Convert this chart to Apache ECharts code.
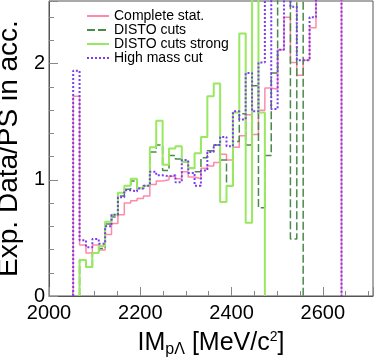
<!DOCTYPE html>
<html><head><meta charset="utf-8">
<script src="https://cdn.jsdelivr.net/npm/echarts@6/dist/echarts.min.js"></script>
<style>html,body{margin:0;padding:0;background:#fff}#c{width:374px;height:360px}</style>
</head><body><div id="c"></div>
<script>
// Bin edges of the invariant-mass histogram (MeV/c^2)
const binEdges = [2053, 2067, 2081, 2095, 2109, 2123, 2137, 2151, 2165, 2179, 2193,
  2207, 2221, 2235, 2249, 2263, 2277, 2291, 2305, 2319, 2333, 2347, 2361, 2375,
  2389, 2403, 2417, 2431, 2445, 2459, 2473, 2487, 2501, 2515, 2529, 2543, 2557,
  2571, 2585, 2599, 2613, 2627, 2641];
// Bin contents (null = empty); values above 2.54 run off the top of the frame
const completeStat = [1.72, 0.44, 0.37, 0.44, 0.395, 0.53, 0.625, 0.70, 0.80, 0.82,
  0.84, 0.86, 0.96, 0.99, 1.00, 1.03, 1.01, 1.07, 1.025, 1.01,
  1.10, 1.12, 1.15, 1.22, 1.17, 1.28, 1.38, 1.56, 1.39, 1.60,
  1.79, 1.78, 2.12, 2.40, 2.01, 1.90, 2.03, 2.31, 2.8, 2.8, 2.8, 2.8];
const distoCuts = [null, 0.31, 0.25, 0.37, 0.41, 0.62, 0.68, 0.86, 0.92, 0.99,
  0.925, 0.95, 1.24, 1.30, 1.08, 1.21, 1.18, 1.155, 1.10, 1.07,
  1.19, 1.25, 1.30, 1.17, 0.95, 1.33, 1.57, 1.30, 1.81, 0.76,
  1.21, 1.92, 2.8, 2.8, 0.49, 2.8, null, null, null, null, null, null];
const distoCutsStrong = [null, 0.31, 0.25, 0.37, 0.43, 0.64, 0.70, 0.89, 0.95, 1.01,
  0.93, 0.95, 1.28, 1.51, 1.13, 1.27, 1.29, 1.155, 1.10, 1.23,
  1.37, 1.72, 1.83, 0.81, 0.95, 1.58, 2.26, 0.63, 2.8, 1.58,
  null, null, null, null, null, null, null, null, null, null, null, null];
const highMassCut = [1.94, 0.48, 0.42, 0.49, 0.45, 0.60, 0.70, 0.85, 0.91, 0.90,
  0.925, 0.95, 1.07, 1.04, 1.03, 1.04, 0.98, 1.17, 1.06, 0.95,
  1.08, 1.24, 1.30, 1.37, 1.29, 1.59, 1.52, 1.92, 1.59, 2.01,
  2.8, 1.61, 2.12, 2.8, 2.49, 2.03, 2.03, 2.40, 2.8, 2.8, 2.8, 2.8];
const seriesNames = ['Complete stat.', 'DISTO cuts', 'DISTO cuts strong', 'High mass cut'];
const xTickLabels = [2000, 2200, 2400, 2600];
const yTickLabels = [0, 1, 2];

function stepPoints(vals) {
  const pts = [];
  let first = vals.findIndex(v => v !== null);
  let last = vals.length - 1;
  while (vals[last] === null) last--;
  pts.push([binEdges[first], 0]);
  for (let k = first; k <= last; k++) {
    pts.push([binEdges[k], vals[k]]);
    pts.push([binEdges[k + 1], vals[k]]);
  }
  pts.push([binEdges[last + 1], 0]);
  return pts;
}

const FONT = 'Liberation Sans';
const chart = echarts.init(document.getElementById('c'), null, {renderer: 'canvas'});
const frame = '#555';
const tickCol = '#888';

function mkSeries(name, vals, color, width, type) {
  return {
    name: name, type: 'line', data: stepPoints(vals), symbol: 'none', showSymbol: false,
    clip: true, xAxisIndex: 0, yAxisIndex: 0,
    lineStyle: {color: color, width: width, type: type},
    itemStyle: {color: color},
    emphasis: {disabled: true}
  };
}

chart.setOption({
  animation: false,
  backgroundColor: '#fff',
  grid: {left: 49, right: 1, top: 1, bottom: 64, containLabel: false, outerBoundsMode: 'none',
    show: true, borderColor: frame, borderWidth: 1, backgroundColor: 'transparent'},
  legend: {
    data: seriesNames, orient: 'vertical', left: 81, top: 4, itemGap: 0,
    itemWidth: 22, itemHeight: 14,
    itemStyle: {opacity: 0},
    textStyle: {fontFamily: FONT, fontSize: 14, color: '#000'}
  },
  xAxis: [
    {
      type: 'value', min: 2000, max: 2710, interval: 200, position: 'bottom',
      axisLine: {show: true, lineStyle: {color: frame, width: 1}},
      axisTick: {show: true, inside: true, length: 9, lineStyle: {color: tickCol}},
      axisLabel: {show: true, margin: 7, fontFamily: FONT, fontSize: 20, color: '#000',
        formatter: v => xTickLabels.includes(v) ? String(v) : ''},
      splitLine: {show: false},
      name: '{m|IM}{s|p\u039B}{m| [MeV/c}{u|2}{m|]}',
      nameLocation: 'middle', nameGap: 33,
      nameTextStyle: {
        rich: {
          m: {fontFamily: FONT, fontSize: 25, color: '#000', lineHeight: 25},
          s: {fontFamily: FONT, fontSize: 16, color: '#000', lineHeight: 16, padding: [14, 0, 0, 0]},
          u: {fontFamily: FONT, fontSize: 14, color: '#000', lineHeight: 14, padding: [0, 0, 12, 0]}
        }
      }
    },
    {
      type: 'value', min: 2000, max: 2710, interval: 50, position: 'bottom',
      axisLine: {show: false},
      axisTick: {show: true, inside: true, length: 5, lineStyle: {color: tickCol}},
      axisLabel: {show: false}, splitLine: {show: false}
    }
  ],
  yAxis: [
    {
      type: 'value', min: 0, max: 2.54, interval: 1, position: 'left',
      axisLine: {show: true, lineStyle: {color: frame, width: 1}},
      axisTick: {show: true, inside: true, length: 9, lineStyle: {color: tickCol}},
      axisLabel: {show: true, margin: 4, fontFamily: FONT, fontSize: 20, color: '#000',
        formatter: v => yTickLabels.includes(v) ? String(v) : ''},
      splitLine: {show: false},
      name: 'Exp. Data/PS in acc.', nameLocation: 'middle', nameGap: 21,
      nameTextStyle: {fontFamily: FONT, fontSize: 28, color: '#000', lineHeight: 28}
    },
    {
      type: 'value', min: 0, max: 2.54, interval: 0.2, position: 'left',
      axisLine: {show: false},
      axisTick: {show: true, inside: true, length: 5, lineStyle: {color: tickCol}},
      axisLabel: {show: false}, splitLine: {show: false}
    }
  ],
  series: [
    mkSeries(seriesNames[0], completeStat, '#ff8aa8', 1.5, 'solid'),
    mkSeries(seriesNames[1], distoCuts, '#4a8a4a', 1.5, [8, 3]),
    mkSeries(seriesNames[2], distoCutsStrong, '#98e860', 2, 'solid'),
    mkSeries(seriesNames[3], highMassCut, '#7a3cf0', 2, [2, 2])
  ]
});
</script>
</body></html>
